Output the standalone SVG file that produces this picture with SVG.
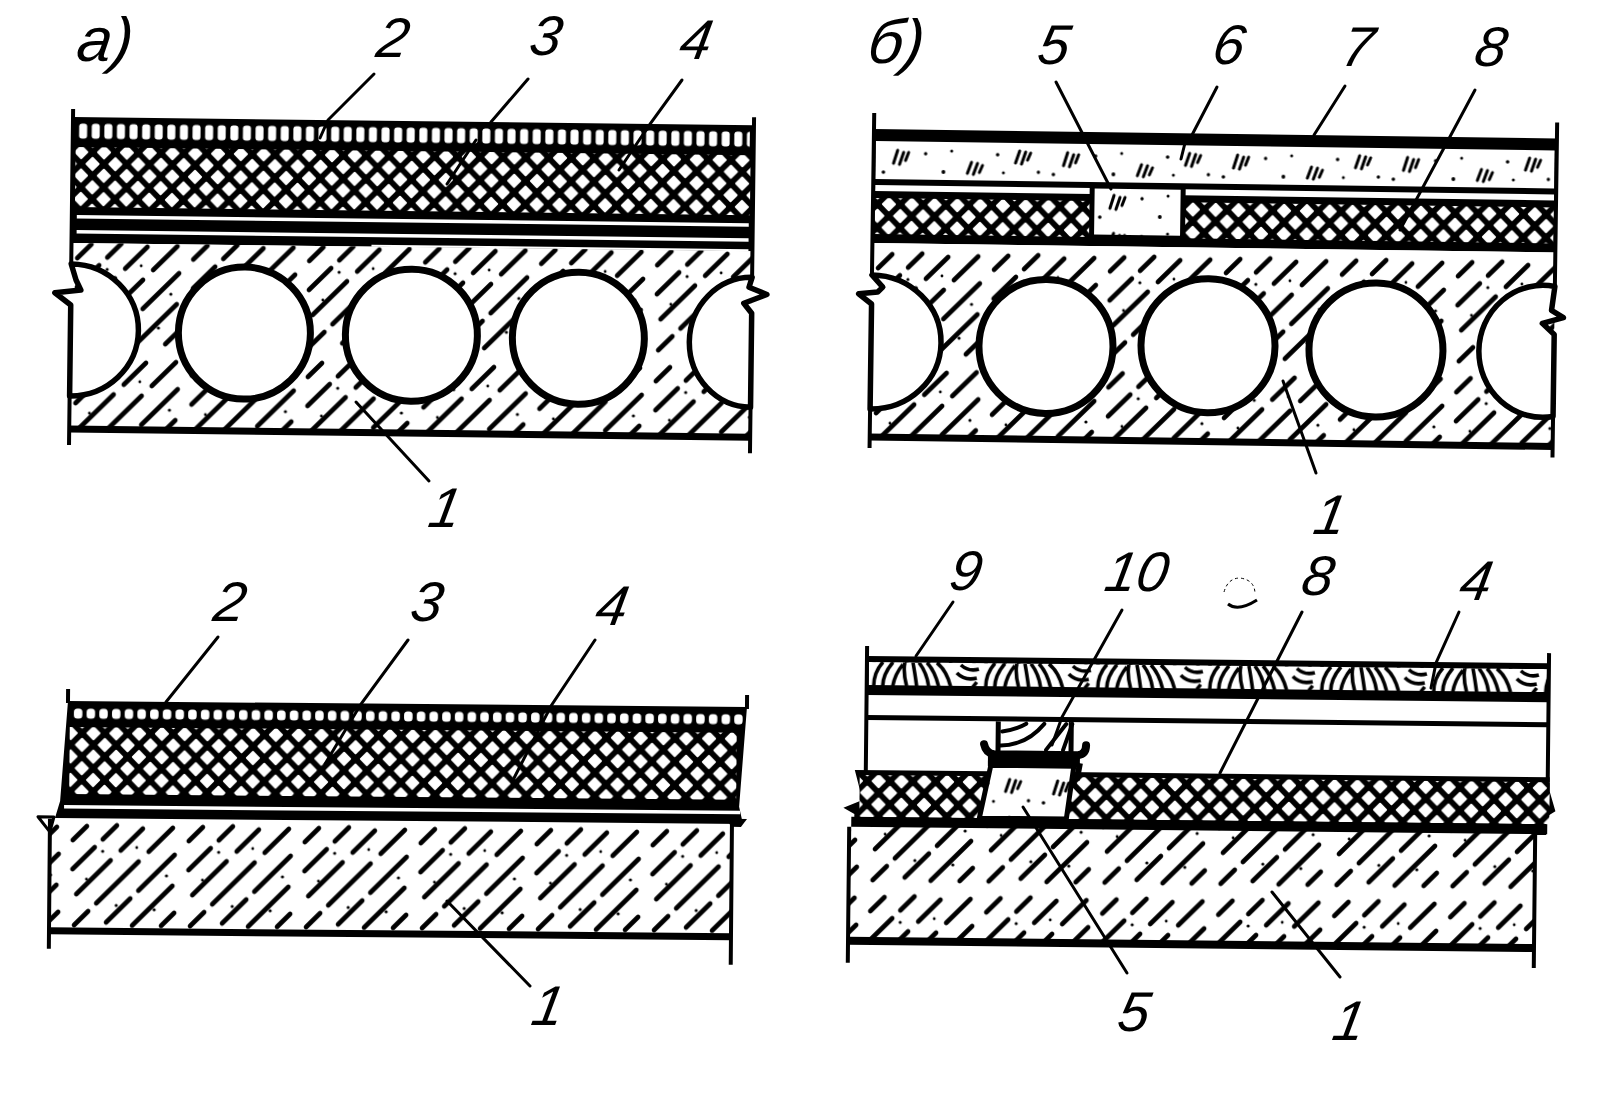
<svg xmlns="http://www.w3.org/2000/svg" width="1624" height="1104" viewBox="0 0 1624 1104">
<style>
.k{fill:#000}
.w{fill:#fff}
.edge{fill:none;stroke:#000;stroke-width:4}
.bot{fill:none;stroke:#000;stroke-width:7}
.hole{fill:#fff;stroke:#000;stroke-width:7}
.brk{fill:#fff;stroke:#000;stroke-width:5.5;stroke-linejoin:round}
.con{fill:url(#concrete)}
.mesh{fill:url(#mesh)}
.slot{fill:url(#slots)}
.slot2{fill:url(#slots2)}
.scr{fill:url(#screed)}
.wood{fill:url(#wood)}
.block{fill:url(#screed);stroke:#000;stroke-width:5}
.grain{fill:none;stroke:#000;stroke-width:4;stroke-linecap:round}
#leaders path{fill:none;stroke:#000;stroke-width:3;stroke-linecap:round}
text{font-family:"Liberation Sans",Arial,sans-serif;font-style:italic;font-size:56px;fill:#000;text-anchor:middle}
text.t{font-size:62px;text-anchor:start}
</style>
<defs>
<pattern id="mesh" width="22.8" height="23.4" patternUnits="userSpaceOnUse">
<rect width="22.8" height="23.4" fill="#000"/>
<path d="M11.4 5.7 L17.4 11.7 L11.4 17.7 L5.4 11.7Z M0 -6 L6 0 L0 6 L-6 0Z M22.8 -6 L28.8 0 L22.8 6 L16.8 0Z M0 17.4 L6 23.4 L0 29.4 L-6 23.4Z M22.8 17.4 L28.8 23.4 L22.8 29.4 L16.8 23.4Z" fill="#fff" stroke="#fff" stroke-width="2" stroke-linejoin="round"/>
</pattern>
<pattern id="slots" width="12.6" height="16" patternUnits="userSpaceOnUse">
<rect width="12.6" height="16" fill="#000"/>
<rect x="2.3" y="0.5" width="8" height="15" rx="3" fill="#fff"/>
</pattern>
<pattern id="slots2" width="12.7" height="11" patternUnits="userSpaceOnUse">
<rect width="12.7" height="11" fill="#000"/>
<rect x="2" y="0.5" width="8.5" height="10" rx="3.5" fill="#fff"/>
</pattern>
<pattern id="concrete" width="116" height="116" patternUnits="userSpaceOnUse">
<rect width="116" height="116" fill="#fff"/>
<path d="M6 23 L20 9 M6 52 L28 30 M36 22 L50 8 M10 77 L44 43 M54 33 L76 11 M8 108 L22 94 M30 86 L72 44 M82 34 L106 10 M40 105 L64 81 M72 73 L108 37 M66 108 L106 68 M95 108 L108 95" fill="none" stroke="#000" stroke-width="4.6" stroke-linecap="round"/>
<g fill="#000"><circle cx="36" cy="34" r="1.6"/><circle cx="70" cy="30" r="1.4"/><circle cx="100" cy="58" r="1.6"/><circle cx="50" cy="88" r="1.6"/><circle cx="20" cy="62" r="1.4"/><circle cx="88" cy="92" r="1.6"/></g>
</pattern>
<pattern id="screed" width="170" height="38" patternUnits="userSpaceOnUse">
<rect width="170" height="38" fill="#fff"/>
<path d="M18 22 L22 9 M24 23 L28 11 M30 19 L33 11 M92 31 L96 20 M98 32 L102 21 M104 30 L107 23 M140 20 L144 8 M146 21 L150 9 M152 17 L155 10" fill="none" stroke="#000" stroke-width="3" stroke-linecap="round"/>
<g fill="#000"><circle cx="50" cy="12" r="1.7"/><circle cx="68" cy="30" r="1.9"/><circle cx="76" cy="9" r="1.5"/><circle cx="122" cy="12" r="1.8"/><circle cx="128" cy="30" r="1.5"/><circle cx="8" cy="31" r="1.8"/><circle cx="163" cy="29" r="1.7"/></g>
</pattern>
<pattern id="wood" width="112" height="24" patternUnits="userSpaceOnUse">
<rect width="112" height="24" fill="#fff"/>
<path d="M5 24 Q5 10 14 0 M14 24 Q14 12 24 0 M24 24 Q26 12 34 2 M38 24 Q34 10 36 0 M48 24 Q46 10 44 0 M60 24 Q58 10 50 0 M70 24 Q66 8 58 0 M82 24 Q78 8 68 0 M88 10 Q96 18 108 15 M92 2 Q100 9 110 6 M104 24 L108 19" fill="none" stroke="#000" stroke-width="3.6"/>
</pattern>
</defs>
<rect width="1624" height="1104" fill="#fff"/>

<g id="panel-a" transform="translate(73 119) rotate(0.7)">
<rect class="k" x="0" y="-2" width="681" height="126"/>
<rect class="slot" width="673" height="16" transform="translate(4 4)"/>
<rect class="mesh" x="-5.7" y="-5" width="675" height="60" transform="translate(8.7 33)"/>
<rect class="w" x="5" y="96" width="672" height="3.5"/>
<rect class="w" x="5" y="111" width="672" height="3.5"/>
<rect class="w" x="300" y="122" width="377" height="2"/>
<rect class="con" y="124" width="681" height="186"/>
<ellipse class="hole" cx="174" cy="212" rx="66" ry="66"/>
<ellipse class="hole" cx="341" cy="212" rx="66" ry="66"/>
<ellipse class="hole" cx="508" cy="213" rx="66" ry="66"/>
<path class="brk" d="M0 145 A68 66 0 0 1 0 277 L0 186 L-16 174 L10 171 L5 161Z"/>
<path class="brk" d="M681 150 A62 65 0 1 0 681 280 L681 186 L673 176 L696 167 L678 160Z"/>
<path class="bot" d="M0 310 H681"/>
<path class="edge" d="M0 -10 V145 M0 277 V326 M681 -10 V150 M681 280 V326"/>
</g>

<g id="panel-b" transform="translate(874 129) rotate(0.8)">
<rect class="k" width="683" height="114"/>
<rect class="scr" x="0" y="0" width="679" height="38" transform="translate(2 12)"/>
<rect class="w" x="2" y="56" width="217" height="6"/>
<rect class="w" x="310" y="56" width="371" height="6"/>
<rect class="mesh" x="-14" y="-6" width="217" height="36" transform="translate(16 75)"/>
<rect class="mesh" x="-9" y="-7" width="370" height="36" transform="translate(320 76)"/>
<rect class="block" width="91" height="51" transform="translate(219 54)"/>
<rect class="con" y="114" width="683" height="194"/>
<ellipse class="hole" cx="175" cy="215" rx="67" ry="67"/>
<ellipse class="hole" cx="337" cy="212" rx="67" ry="67"/>
<ellipse class="hole" cx="505" cy="214" rx="67" ry="67"/>
<path class="brk" d="M0 146 A70 67 0 0 1 0 280 L0 175 L-13 165 L6 163 L11 158Z"/>
<path class="brk" d="M683 148 A64 66 0 1 0 683 278 L683 196 L671 185 L692 179 L680 172Z"/>
<path class="bot" d="M0 308 H683"/>
<path class="edge" d="M0 -16 V146 M0 280 V319 M683 -16 V148 M683 278 V319"/>
</g>

<g id="panel-c" transform="translate(68 701) rotate(0.5)">
<path class="k" d="M0 0 H679 L672 100 L676 117 H-12 L-7 100Z"/>
<rect class="slot2" width="671" height="11" transform="translate(4 7)"/>
<rect class="mesh" x="-1" y="-6" width="667" height="67" transform="translate(3 32)"/>
<rect class="w" x="-3" y="104" width="676" height="3.5"/>
<rect class="con" x="-17" y="118" width="682" height="112"/>
<path class="bot" d="M-17 230 H665"/>
<path class="brk" style="stroke-width:3" d="M-29 116 L-13 116 L-17 131Z"/>
<path class="k" d="M660 112 H680 L674 120 H664Z"/>
<path class="edge" d="M0 -12 V2 M679 -12 V2 M-17 118 V248 M665 118 V258"/>
</g>

<g id="panel-d" transform="translate(867 656) rotate(0.6)">
<rect class="k" width="682" height="39"/>
<rect class="wood" width="678" height="23" transform="translate(2 6)"/>
<path class="edge" d="M0 -10 V120 M682 -10 V120"/>
<rect class="k" y="59" width="682" height="5"/>
<path class="k" d="M-11 114 H684 V128 L690 148 L682 153 V171 H-11 V158 L-22 152 L-3 144Z"/>
<rect class="mesh" x="-19" y="-6" width="690" height="42" transform="translate(13 125)"/>
<rect class="k" x="-14" y="161" width="695" height="11"/>
<path class="grain" d="M134 88 Q160 88 178 66 M136 74 Q150 72 160 66 M180 92 L200 66 M197 92 L206 66"/>
<path d="M132 64 V98 M205 64 V98" fill="none" stroke="#000" stroke-width="5"/>
<path d="M118 87 Q120 96 128 97 H212 Q220 96 220 87" fill="none" stroke="#000" stroke-width="8" stroke-linecap="round"/>
<rect class="k" x="122" y="96" width="92" height="13"/>
<path class="block" d="M125 108 H208 L201 161 H114Z"/>
<path d="M214 105 L211 122" fill="none" stroke="#000" stroke-width="6"/>
<rect class="con" x="-16" y="171" width="686" height="113"/>
<path class="bot" style="stroke-width:8" d="M-16 285 H670"/>
<path class="edge" d="M-16 171 V307 M670 171 V305"/>
</g>

<g id="leaders">
<path d="M374 74 L328 120 L320 138"/>
<path d="M528 79 L491 122 M476 140 L447 184"/>
<path d="M682 80 L650 124 L619 170"/>
<path d="M429 481 L356 402"/>
<path d="M1056 82 L1111 189"/>
<path d="M1217 87 L1192 135 M1185 143 L1181 159"/>
<path d="M1345 86 L1314 135"/>
<path d="M1475 90 L1400 230"/>
<path d="M1316 473 L1283 381"/>
<path d="M218 637 L166 702"/>
<path d="M408 640 L361 704 L325 764"/>
<path d="M595 640 L551 706 L512 782"/>
<path d="M530 986 L447 901"/>
<path d="M953 602 L916 656"/>
<path d="M1122 610 L1062 717 L1052 745"/>
<path d="M1302 612 L1220 773"/>
<path d="M1459 612 L1436 663 L1431 688"/>
<path d="M1127 973 L1023 807"/>
<path d="M1340 977 L1272 892"/>
</g>

<g id="labels">
<text class="t" transform="translate(75 61) skewX(-8)">а)</text>
<text class="t" transform="translate(866 63) skewX(-8)">б)</text>
<text transform="translate(390 57) skewX(-10)">2</text>
<text transform="translate(543 55) skewX(-10)">3</text>
<text transform="translate(693 59) skewX(-10)">4</text>
<text transform="translate(442 527) skewX(-10)">1</text>
<text transform="translate(1051 64) skewX(-10)">5</text>
<text transform="translate(1226 64) skewX(-10)">6</text>
<text transform="translate(1355 66) skewX(-10)">7</text>
<text transform="translate(1488 66) skewX(-10)">8</text>
<text transform="translate(1327 534) skewX(-10)">1</text>
<text transform="translate(227 621) skewX(-10)">2</text>
<text transform="translate(424 621) skewX(-10)">3</text>
<text transform="translate(609 625) skewX(-10)">4</text>
<text transform="translate(545 1025) skewX(-10)">1</text>
<text transform="translate(963 590) skewX(-10)">9</text>
<text transform="translate(1134 591) skewX(-10)">10</text>
<text transform="translate(1315 595) skewX(-10)">8</text>
<text transform="translate(1473 600) skewX(-10)">4</text>
<text transform="translate(1131 1031) skewX(-10)">5</text>
<text transform="translate(1346 1040) skewX(-10)">1</text>
</g>

<g id="marks" fill="none" stroke="#000">
<path stroke-width="3" d="M1228 604 Q1238 612 1257 600"/>
<path stroke-width="1" stroke-dasharray="3 3" d="M1224 592 Q1228 578 1240 578 Q1255 580 1255 594"/>
</g>
</svg>
